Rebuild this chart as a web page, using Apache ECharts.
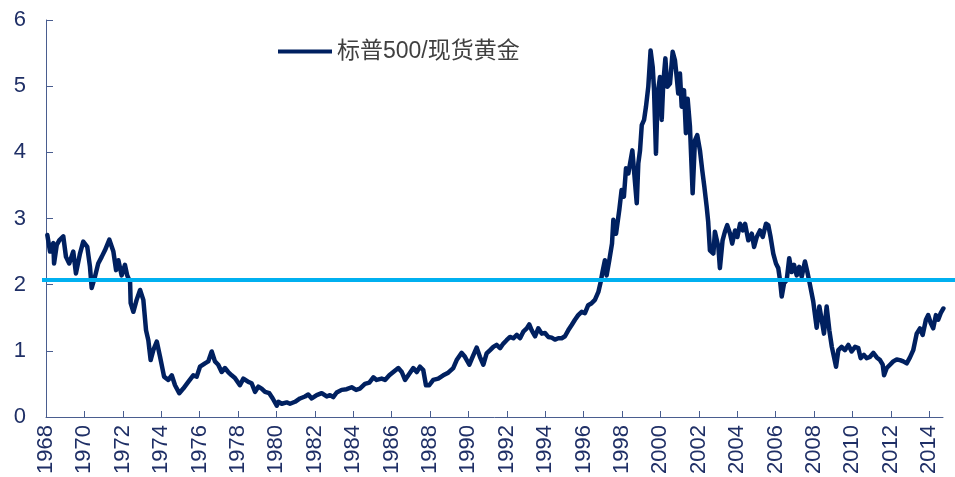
<!DOCTYPE html>
<html>
<head>
<meta charset="utf-8">
<script src="https://cdn.jsdelivr.net/npm/echarts@6/dist/echarts.min.js"></script>
<style>
  html, body { margin: 0; padding: 0; background: #ffffff; }
  #chart { width: 955px; height: 477px; }
</style>
</head>
<body>
<div id="chart"></div>
<script>
// S&P 500 index divided by spot gold price, 1968 – 2014
const seriesName = '标普500/现货黄金';

const years = [
  1968.07, 1968.21, 1968.38, 1968.42, 1968.56, 1968.69, 1968.90, 1969.04, 1969.21, 1969.42,
  1969.56, 1969.77, 1969.94, 1970.15, 1970.29, 1970.38, 1970.55, 1970.72, 1970.90, 1971.07,
  1971.30, 1971.51, 1971.65, 1971.77, 1971.94, 1972.11, 1972.23, 1972.38, 1972.41, 1972.55,
  1972.72, 1972.90, 1973.07, 1973.21, 1973.33, 1973.45, 1973.59, 1973.77, 1973.94, 1974.15,
  1974.37, 1974.55, 1974.72, 1974.94, 1975.15, 1975.41, 1975.67, 1975.85, 1976.02, 1976.28,
  1976.45, 1976.63, 1976.80, 1976.97, 1977.15, 1977.32, 1977.49, 1977.67, 1977.84, 1978.10,
  1978.28, 1978.54, 1978.71, 1978.89, 1979.06, 1979.23, 1979.41, 1979.63, 1979.81, 1980.02,
  1980.10, 1980.28, 1980.54, 1980.71, 1980.97, 1981.23, 1981.49, 1981.66, 1981.84, 1982.10,
  1982.36, 1982.62, 1982.79, 1982.96, 1983.14, 1983.40, 1983.66, 1983.92, 1984.15, 1984.35,
  1984.61, 1984.84, 1985.05, 1985.22, 1985.48, 1985.66, 1985.88, 1986.09, 1986.35, 1986.53,
  1986.70, 1986.87, 1987.13, 1987.31, 1987.48, 1987.65, 1987.79, 1987.96, 1988.17, 1988.43,
  1988.69, 1988.95, 1989.21, 1989.39, 1989.65, 1989.82, 1990.05, 1990.22, 1990.43, 1990.60,
  1990.78, 1990.95, 1991.13, 1991.30, 1991.47, 1991.65, 1991.82, 1991.99, 1992.17, 1992.34,
  1992.52, 1992.69, 1992.86, 1993.04, 1993.17, 1993.30, 1993.47, 1993.64, 1993.82, 1993.99,
  1994.16, 1994.34, 1994.51, 1994.68, 1994.86, 1995.03, 1995.20, 1995.38, 1995.55, 1995.72,
  1995.90, 1996.07, 1996.24, 1996.42, 1996.59, 1996.77, 1996.89, 1996.99, 1997.11, 1997.20,
  1997.34, 1997.48, 1997.55, 1997.69, 1997.86, 1997.98, 1998.10, 1998.21, 1998.33, 1998.42,
  1998.54, 1998.64, 1998.77, 1998.85, 1998.94, 1999.03, 1999.15, 1999.25, 1999.37, 1999.49,
  1999.60, 1999.67, 1999.77, 1999.86, 1999.98, 2000.07, 2000.15, 2000.26, 2000.36, 2000.50,
  2000.64, 2000.76, 2000.85, 2000.93, 2001.02, 2001.11, 2001.23, 2001.33, 2001.42, 2001.54,
  2001.68, 2001.80, 2001.92, 2002.06, 2002.18, 2002.29, 2002.41, 2002.49, 2002.58, 2002.76,
  2002.84, 2003.02, 2003.10, 2003.24, 2003.36, 2003.48, 2003.63, 2003.74, 2003.89, 2004.01,
  2004.15, 2004.29, 2004.41, 2004.58, 2004.76, 2004.88, 2005.02, 2005.19, 2005.33, 2005.50,
  2005.62, 2005.74, 2005.88, 2006.02, 2006.14, 2006.23, 2006.32, 2006.44, 2006.58, 2006.71,
  2006.84, 2006.96, 2007.10, 2007.23, 2007.36, 2007.53, 2007.65, 2007.79, 2007.96, 2008.14,
  2008.28, 2008.40, 2008.52, 2008.66, 2008.80, 2008.93, 2009.04, 2009.15, 2009.27, 2009.44,
  2009.61, 2009.79, 2009.96, 2010.14, 2010.31, 2010.43, 2010.60, 2010.74, 2010.92, 2011.09,
  2011.27, 2011.44, 2011.58, 2011.65, 2011.79, 2011.96, 2012.13, 2012.31, 2012.48, 2012.65,
  2012.83, 2013.00, 2013.17, 2013.35, 2013.52, 2013.66, 2013.83, 2013.95, 2014.08, 2014.21,
  2014.35, 2014.47, 2014.60, 2014.74
];

const ratio = [
  2.75, 2.50, 2.63, 2.32, 2.60, 2.67, 2.73, 2.42, 2.32, 2.50,
  2.17, 2.47, 2.65, 2.57, 2.27, 1.95, 2.12, 2.32, 2.42, 2.52,
  2.68, 2.50, 2.22, 2.37, 2.14, 2.30, 2.14, 2.04, 1.72, 1.59,
  1.77, 1.92, 1.77, 1.31, 1.16, 0.86, 1.01, 1.14, 0.91, 0.61,
  0.56, 0.63, 0.48, 0.36, 0.43, 0.53, 0.63, 0.61, 0.76, 0.81,
  0.84, 0.99, 0.84, 0.79, 0.68, 0.74, 0.68, 0.63, 0.59, 0.48,
  0.58, 0.53, 0.51, 0.38, 0.46, 0.43, 0.38, 0.36, 0.28, 0.17,
  0.23, 0.20, 0.22, 0.20, 0.23, 0.28, 0.31, 0.34, 0.28, 0.33,
  0.36, 0.31, 0.33, 0.30, 0.37, 0.41, 0.42, 0.45, 0.41, 0.43,
  0.50, 0.52, 0.60, 0.56, 0.58, 0.56, 0.63, 0.68, 0.74, 0.68,
  0.56, 0.63, 0.74, 0.68, 0.76, 0.71, 0.48, 0.48, 0.56, 0.58,
  0.63, 0.67, 0.74, 0.86, 0.97, 0.91, 0.79, 0.91, 1.05, 0.91,
  0.79, 0.96, 1.01, 1.06, 1.09, 1.04, 1.11, 1.16, 1.21, 1.19,
  1.24, 1.19, 1.29, 1.34, 1.40, 1.31, 1.22, 1.34, 1.26, 1.27,
  1.21, 1.20, 1.17, 1.19, 1.19, 1.22, 1.31, 1.39, 1.47, 1.54,
  1.59, 1.57, 1.69, 1.72, 1.77, 1.89, 2.04, 2.20, 2.37, 2.14,
  2.37, 2.62, 2.98, 2.77, 3.13, 3.43, 3.33, 3.76, 3.68, 3.83,
  4.03, 3.68, 3.23, 3.83, 4.03, 4.41, 4.49, 4.69, 4.99, 5.54,
  5.29, 4.94, 3.98, 4.89, 5.14, 4.49, 5.04, 5.42, 4.99, 5.04,
  5.52, 5.39, 5.14, 4.89, 5.19, 4.69, 4.94, 4.29, 4.81, 4.39,
  3.38, 4.18, 4.26, 4.03, 3.73, 3.48, 3.18, 2.95, 2.52, 2.47,
  2.80, 2.57, 2.25, 2.67, 2.80, 2.90, 2.77, 2.62, 2.82, 2.72,
  2.92, 2.82, 2.92, 2.67, 2.77, 2.57, 2.72, 2.82, 2.72, 2.92,
  2.90, 2.72, 2.47, 2.32, 2.25, 2.07, 1.82, 2.02, 2.07, 2.40,
  2.19, 2.30, 2.14, 2.27, 2.12, 2.35, 2.20, 2.00, 1.75, 1.35,
  1.67, 1.47, 1.26, 1.67, 1.31, 1.06, 0.91, 0.76, 1.01, 1.06,
  1.01, 1.09, 0.99, 1.06, 1.04, 0.89, 0.94, 0.89, 0.91, 0.97,
  0.90, 0.86, 0.79, 0.63, 0.74, 0.79, 0.84, 0.87, 0.86, 0.84,
  0.81, 0.90, 1.01, 1.26, 1.34, 1.24, 1.47, 1.54, 1.42, 1.34,
  1.54, 1.47, 1.57, 1.64
];

// horizontal reference level
const referenceLevel = [2.07];

const xStart = 1968;
const xEnd = 2014.72;
const yTicks = [0, 1, 2, 3, 4, 5, 6];

const FONT = "'Liberation Sans', Arial, 'Noto Sans CJK SC', sans-serif";
const NAVY = '#002060';
const AXIS_COLOR = '#4a5d8f';
const LABEL_COLOR = '#1f2f66';

const ratioData = years.map((y, i) => [y, ratio[i]]);
const levelData = [[0, referenceLevel[0]], [1, referenceLevel[0]]];

const chart = echarts.init(document.getElementById('chart'), null, { renderer: 'canvas' });

chart.setOption({
  animation: false,
  backgroundColor: '#ffffff',
  textStyle: { fontFamily: FONT },
  legend: {
    data: [seriesName],
    left: 278,
    top: 40,
    padding: 0,
    icon: 'rect',
    itemWidth: 54,
    itemHeight: 4,
    textStyle: { fontSize: 23, color: '#404040', fontFamily: FONT }
  },
  grid: [
    { left: 46, right: 12, top: 20, bottom: 60, containLabel: false },
    { left: 42, right: 0, top: 20, bottom: 60, containLabel: false }
  ],
  xAxis: [
    {
      type: 'value',
      gridIndex: 0,
      min: xStart,
      max: xEnd,
      interval: 2,
      axisLine: { show: true, lineStyle: { color: AXIS_COLOR, width: 1 } },
      axisTick: { show: true, inside: true, length: 6, lineStyle: { color: AXIS_COLOR } },
      splitLine: { show: false },
      axisLabel: {
        rotate: 90,
        margin: 8,
        fontSize: 22,
        color: LABEL_COLOR,
        fontFamily: FONT,
        showMaxLabel: false,
        formatter: v => String(Math.round(v))
      }
    },
    { type: 'value', gridIndex: 1, min: 0, max: 1, show: false }
  ],
  yAxis: [
    {
      type: 'value',
      gridIndex: 0,
      min: yTicks[0],
      max: yTicks[yTicks.length - 1],
      interval: 1,
      axisLine: { show: true, lineStyle: { color: AXIS_COLOR, width: 1 } },
      axisTick: { show: true, inside: true, length: 7, lineStyle: { color: AXIS_COLOR } },
      splitLine: { show: false },
      axisLabel: { margin: 20, fontSize: 22, color: LABEL_COLOR, fontFamily: FONT }
    },
    { type: 'value', gridIndex: 1, min: 0, max: 6, show: false }
  ],
  series: [
    {
      name: seriesName,
      type: 'line',
      xAxisIndex: 0,
      yAxisIndex: 0,
      data: ratioData,
      showSymbol: false,
      symbol: 'none',
      lineStyle: { color: NAVY, width: 4.5, join: 'round', cap: 'round' },
      itemStyle: { color: NAVY },
      z: 2
    },
    {
      name: 'level',
      type: 'line',
      xAxisIndex: 1,
      yAxisIndex: 1,
      data: levelData,
      showSymbol: false,
      symbol: 'none',
      lineStyle: { color: '#00b0f0', width: 4 },
      z: 3,
      silent: true
    }
  ]
});
</script>
</body>
</html>
